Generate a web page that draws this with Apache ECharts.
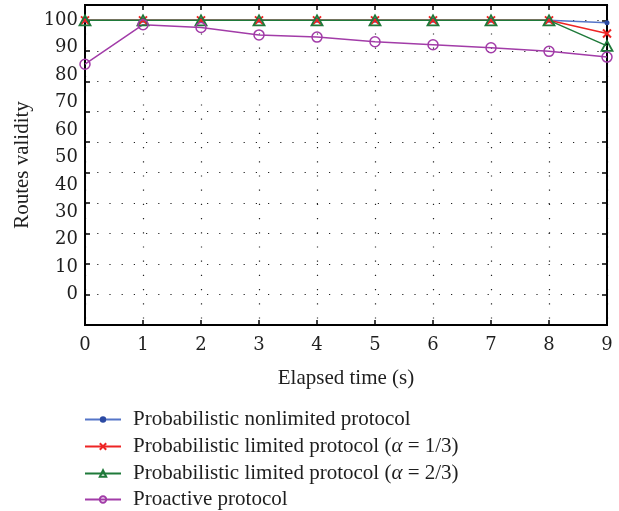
<!DOCTYPE html>
<html>
<head>
<meta charset="utf-8">
<script src="https://cdn.jsdelivr.net/npm/echarts@6/dist/echarts.min.js"></script>
<style>
  html, body { margin: 0; padding: 0; background: #fff; }
  #chart { width: 619px; height: 511px; }
</style>
</head>
<body>
<div id="chart"></div>
<script>
  // elapsed time (s)
  const times = [0, 1, 2, 3, 4, 5, 6, 7, 8, 9];
  const nonlimited = [100, 100, 100, 100, 100, 100, 100, 100, 100, 99.1];
  const limited13 = [100, 100, 100, 100, 100, 100, 100, 100, 100, 95.2];
  const limited23 = [100, 100, 100, 100, 100, 100, 100, 100, 100, 90.7];
  const proactive = [84.0, 98.4, 97.4, 94.7, 93.9, 92.2, 91.1, 90.0, 88.7, 86.6];
  const yLabels = [0, 10, 20, 30, 40, 50, 60, 70, 80, 90, 100];
  // grid lines of the original are spaced 100/9 apart, not 10
  const yGrid = [0, 1, 2, 3, 4, 5, 6, 7, 8, 9].map(i => i * 100 / 9);

  const names = [
    'Probabilistic nonlimited protocol',
    'Probabilistic limited protocol (α = 1/3)',
    'Probabilistic limited protocol (α = 2/3)',
    'Proactive protocol'
  ];

  const pairs = arr => times.map((t, i) => [t, arr[i]]);
  const font = '"Liberation Serif", "DejaVu Serif", serif';
  const numFont = '"DejaVu Serif", serif';
  const txt = '#1e1e1e';

  // one legend per row so the rows never wrap into columns
  const legendTops = [409, 436, 463, 489];
  const legends = names.map((n, i) => ({
    orient: 'vertical', left: 84, top: legendTops[i], padding: 0,
    itemWidth: 36, itemHeight: 8,
    data: [n],
    formatter: s => s.replace('α', '{i|α}'),
    textStyle: {
      fontFamily: font, fontSize: 21, color: txt, padding: [0, 0, 0, 7],
      rich: { i: { fontFamily: font, fontSize: 21, fontStyle: 'italic', color: txt } }
    }
  }));

  const myChart = echarts.init(document.getElementById('chart'));
  const option = {
    animation: false,
    grid: {
      left: 85, top: 5, width: 522, height: 320,
      show: true, borderColor: '#000', borderWidth: 2, backgroundColor: 'transparent'
    },
    legend: legends,
    xAxis: [{
      type: 'value', min: 0, max: 9, interval: 1,
      name: 'Elapsed time (s)', nameLocation: 'middle', nameGap: 43,
      nameTextStyle: { fontFamily: font, fontSize: 21, color: txt },
      axisLine: { show: true, onZero: false, lineStyle: { color: '#000', width: 2 } },
      axisTick: { show: true, inside: true, length: 5, lineStyle: { color: '#000', width: 1.5 } },
      axisLabel: { fontFamily: numFont, fontSize: 18, color: txt, margin: 11 },
      splitLine: { show: true, lineStyle: { color: '#222', width: 1.2, type: [1.2, 13] } }
    }, {
      type: 'value', min: 0, max: 9, interval: 1, position: 'top',
      axisLine: { show: true, onZero: false, lineStyle: { color: '#000', width: 2 } },
      axisTick: { show: true, inside: true, length: 5, lineStyle: { color: '#000', width: 1.5 } },
      axisLabel: { show: false }, splitLine: { show: false }
    }],
    yAxis: [{
      type: 'value', min: -100 / 9, max: 105.6,
      name: 'Routes validity', nameLocation: 'middle', nameGap: 48,
      nameTextStyle: { fontFamily: font, fontSize: 21, color: txt },
      axisLine: { show: true, onZero: false, lineStyle: { color: '#000', width: 2 } },
      axisTick: { show: true, inside: true, length: 5, customValues: yGrid, lineStyle: { color: '#000', width: 1.5 } },
      axisLabel: { fontFamily: numFont, fontSize: 18, color: txt, margin: 7, customValues: yLabels },
      splitLine: { show: true, lineStyle: { color: '#222', width: 1.2, type: [1.2, 11] } }
    }, {
      type: 'value', min: -100 / 9, max: 105.6, position: 'right',
      axisLine: { show: true, onZero: false, lineStyle: { color: '#000', width: 2 } },
      axisTick: { show: true, inside: true, length: 5, customValues: yGrid, lineStyle: { color: '#000', width: 1.5 } },
      axisLabel: { show: false }, splitLine: { show: false }
    }],
    series: [
      {
        name: names[0], type: 'line', data: pairs(nonlimited),
        symbol: 'circle', symbolSize: 5,
        lineStyle: { color: '#5575c8', width: 1.5 },
        itemStyle: { color: '#2b4aa3' }
      },
      {
        name: names[1], type: 'line', data: pairs(limited13),
        symbol: 'path://M0,0L10,10M10,0L0,10', symbolSize: 8,
        lineStyle: { color: '#ee2424', width: 1.5 },
        itemStyle: { color: 'transparent', borderColor: '#ee2424', borderWidth: 2 }
      },
      {
        name: names[2], type: 'line', data: pairs(limited23),
        symbol: 'path://M5,0L10,9L0,9Z', symbolSize: [11, 10],
        lineStyle: { color: '#1f7a3a', width: 1.5 },
        itemStyle: { color: 'transparent', borderColor: '#1f7a3a', borderWidth: 1.8 }
      },
      {
        name: names[3], type: 'line', data: pairs(proactive),
        symbol: 'circle', symbolSize: 10,
        lineStyle: { color: '#a23ca8', width: 1.5 },
        itemStyle: { color: 'transparent', borderColor: '#a23ca8', borderWidth: 1.5 }
      }
    ]
  };
  myChart.setOption(option);
</script>
</body>
</html>
